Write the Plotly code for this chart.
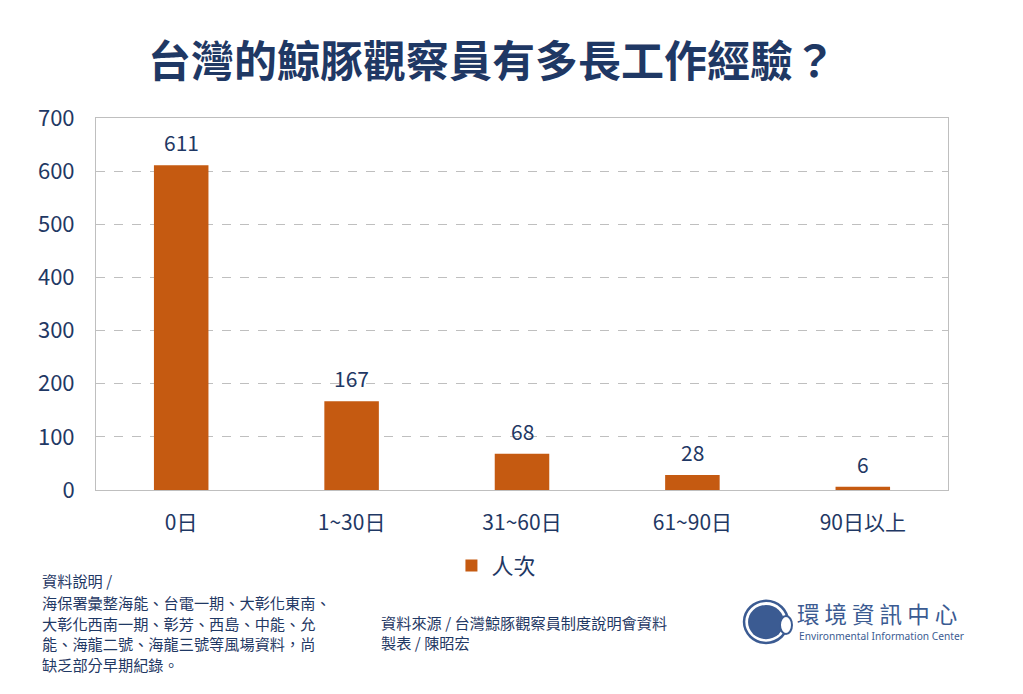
import plotly.graph_objects as go

categories = ["0日", "1~30日", "31~60日", "61~90日", "90日以上"]
values = [611, 167, 68, 28, 6]
series_name = "人次"
y_ticks = [0, 100, 200, 300, 400, 500, 600, 700]

note_lines = ["資料說明 /", "海保署彙整海能、台電一期、大彰化東南、", "大彰化西南一期、彰芳、西島、中能、允",
              "能、海龍二號、海龍三號等風場資料，尚", "缺乏部分早期紀錄。"]
source_lines = ["資料來源 / 台灣鯨豚觀察員制度說明會資料", "製表 / 陳昭宏"]

NAVY = "#1f3864"
BAR = "#c55a11"
LOGO = "#3b5b92"
FONT = "Noto Sans CJK TC"

fig = go.Figure()
fig.add_trace(go.Bar(
    x=categories, y=values, name=series_name,
    marker=dict(color=BAR, line=dict(width=0)),
))
for c, v in zip(categories, values):
    fig.add_annotation(x=c, y=v, text=str(v), showarrow=False, yanchor="bottom", yshift=6,
                       font=dict(size=21, color=NAVY, family=FONT))

fig.update_layout(
    width=1023, height=694,
    margin=dict(l=96, r=75, t=118, b=204),
    paper_bgcolor="white", plot_bgcolor="white",
    font=dict(family=FONT, color=NAVY),
    bargap=0.68,
    showlegend=True,
    legend=dict(orientation="h", x=0.47, xanchor="center", y=-0.147, yanchor="top",
                font=dict(size=22, color=NAVY, family=FONT), itemwidth=30),
    title=dict(text="<b>台灣的鯨豚觀察員有多長工作經驗？</b>", x=0.481, xanchor="center",
               y=0.911, yanchor="middle",
               font=dict(size=43, color=NAVY, family=FONT)),
    xaxis=dict(showline=True, linecolor="#bfbfbf", mirror=True, ticks="",
               ticklabelstandoff=14,
               tickfont=dict(size=21, color=NAVY, family=FONT)),
    yaxis=dict(range=[0, 700], tickvals=y_ticks, showline=True, linecolor="#bfbfbf",
               mirror=True, showgrid=True, gridcolor="#bfbfbf", griddash="dash",
               gridwidth=1.3, zeroline=False, ticks="", ticklabelstandoff=16,
               tickfont=dict(size=22, color=NAVY, family=FONT)),
)

foot = dict(family=FONT, size=15.2, color=NAVY)

def ypx(py):
    # pixel row -> paper y for a plot spanning rows 118..490
    return (490 - py) / 372

for line, py in zip(note_lines, [580, 602, 622.5, 643, 663.5]):
    fig.add_annotation(xref="paper", yref="paper", x=-0.065, y=ypx(py), xanchor="left",
                       yanchor="middle", align="left", showarrow=False, font=foot, text=line,
                       borderpad=0)
for line, py in zip(source_lines, [621.5, 642]):
    fig.add_annotation(xref="paper", yref="paper", x=0.333, y=ypx(py), xanchor="left",
                       yanchor="middle", align="left", showarrow=False, font=foot, text=line,
                       borderpad=0)

# logo
fig.add_shape(type="circle", xref="paper", yref="paper", x0=0.7606, x1=0.8122, y0=-0.411, y1=-0.298,
              line=dict(color=LOGO, width=2.5), fillcolor="white")
fig.add_shape(type="circle", xref="paper", yref="paper", x0=0.7653, x1=0.8075, y0=-0.401, y1=-0.309,
              line=dict(width=0), fillcolor=LOGO)
fig.add_shape(type="circle", xref="paper", yref="paper", x0=0.8028, x1=0.8169, y0=-0.387, y1=-0.3387,
              line=dict(color=LOGO, width=2), fillcolor="white")
fig.add_annotation(xref="paper", yref="paper", x=0.822, y=ypx(613), xanchor="left", yanchor="middle",
                   showarrow=False, text="環 境 資 訊 中 心", borderpad=0,
                   font=dict(family=FONT, size=22.5, color=LOGO))
fig.add_annotation(xref="paper", yref="paper", x=0.824, y=ypx(636), xanchor="left", yanchor="middle",
                   showarrow=False, text="Environmental Information Center", borderpad=0,
                   font=dict(family="Noto Sans", size=10.2, color=LOGO))

fig.write_html("out.html")
